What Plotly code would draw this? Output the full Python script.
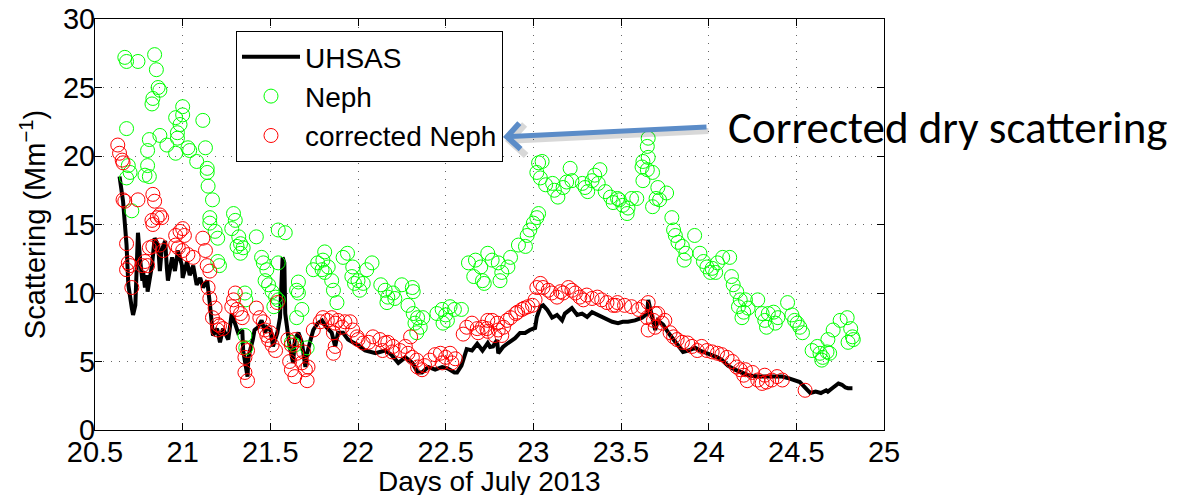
import plotly.graph_objects as go

# ---------------- data ----------------
uhsas_x = [20.64, 20.66, 20.68, 20.69, 20.71, 20.717, 20.73, 20.74, 20.745, 20.757, 20.77, 20.774,
           20.785, 20.797, 20.80, 20.825, 20.84, 20.86, 20.87, 20.88, 20.90, 20.91, 20.916, 20.94,
           20.956, 20.973, 20.996, 21.0, 21.025, 21.04, 21.06, 21.08, 21.1, 21.116, 21.14, 21.156,
           21.173, 21.196, 21.213, 21.23, 21.24, 21.26, 21.28, 21.3, 21.316, 21.34, 21.345, 21.37,
           21.375, 21.4, 21.41, 21.43, 21.45, 21.47, 21.48, 21.5, 21.515, 21.54, 21.555, 21.57,
           21.58, 21.585, 21.595, 21.61, 21.63, 21.64, 21.66, 21.68, 21.7, 21.71, 21.73, 21.745,
           21.77, 21.795, 21.82, 21.85, 21.87, 21.886, 21.915, 21.943, 21.97, 22.0, 22.04, 22.1,
           22.155, 22.19, 22.23, 22.27, 22.31, 22.34, 22.365, 22.4, 22.44, 22.48, 22.51, 22.55,
           22.565, 22.59, 22.62, 22.65, 22.68, 22.71, 22.74, 22.753, 22.77, 22.793, 22.80, 22.827,
           22.856, 22.896, 22.924, 22.953, 22.98, 23.01, 23.02, 23.04, 23.056, 23.08, 23.107,
           23.135, 23.164, 23.18, 23.22, 23.25, 23.278, 23.307, 23.335, 23.37, 23.41, 23.45,
           23.483, 23.51, 23.54, 23.58, 23.62, 23.65, 23.655, 23.68, 23.695, 23.71, 23.74, 23.77,
           23.80, 23.826, 23.854, 23.883, 23.923, 23.95, 23.99, 24.02, 24.05, 24.077, 24.11, 24.15,
           24.19, 24.225, 24.28, 24.36, 24.42, 24.45, 24.49, 24.52, 24.55, 24.58, 24.61, 24.64,
           24.67, 24.68, 24.71, 24.74, 24.76, 24.78, 24.795, 24.82]
uhsas_y = [18.5, 16.7, 13.5, 10.6, 8.9, 8.4, 9.1, 12.6, 14.4, 12.5, 10.9, 11.6,
           10.4, 11.3, 10.1, 12.0, 14.0, 13.5, 11.6, 13.1, 13.8, 11.8, 10.9, 12.6,
           11.6, 13.1, 12.0, 11.1, 12.3, 11.3, 12.0, 10.6, 11.1, 10.4, 10.9, 9.1,
           6.9, 7.4, 6.4, 7.4, 7.1, 6.6, 8.5, 7.8, 7.1, 7.3, 5.8, 3.9,
           5.3, 6.6, 7.3, 7.5, 8.0, 7.1, 7.5, 7.3, 6.1, 7.1, 8.2, 12.6,
           12.2, 8.5, 7.5, 6.1, 4.9, 6.6, 7.1, 6.4, 4.6, 5.6, 6.6, 7.3,
           7.8, 8.0, 7.5, 7.1, 6.1, 7.1, 7.1, 6.6, 6.4, 6.2, 5.8, 5.6,
           5.8, 5.5, 4.9, 5.3, 4.9, 4.2, 4.2, 4.6, 4.4, 4.6, 4.5, 4.2,
           4.2, 4.7, 5.9, 5.8, 6.3, 5.8, 6.35, 6.06, 6.1, 6.57, 5.6, 6.06,
           6.35, 6.7, 7.08, 7.08, 7.3, 7.45, 8.25, 9.0, 9.1, 8.76, 8.2,
           8.4, 8.0, 8.5, 8.9, 8.4, 8.5, 8.25, 8.6, 8.4, 8.2, 7.9,
           7.8, 7.9, 7.9, 8.0, 8.2, 8.5, 9.5, 8.0, 7.3, 8.0, 7.7, 7.1,
           6.6, 6.1, 5.7, 5.8, 6.0, 5.8, 5.6, 5.5, 5.3, 5.1, 4.7, 4.4,
           4.2, 4.0, 3.9, 3.9, 3.9, 3.8, 3.65, 3.5, 3.1, 2.7, 2.8, 2.7,
           2.9, 2.8, 3.1, 3.4, 3.3, 3.1, 3.05, 3.05]

neph_x = [20.67, 20.68, 20.745, 20.84, 20.85, 20.86, 20.87, 20.83, 20.825, 20.68, 21.0, 21.0,
          20.96, 20.985, 20.97, 20.97, 21.115, 20.87, 20.81, 20.80, 20.91, 20.96, 21.03, 21.04,
          21.13, 21.08, 20.69, 20.70, 20.68, 20.80, 20.785, 20.81, 21.14, 21.14, 21.145, 21.17,
          20.71, 21.155, 21.155, 21.185, 21.2, 21.2, 21.21, 21.29, 21.3, 21.28, 21.32, 21.33,
          21.31, 21.345, 21.33, 21.42, 21.45, 21.46, 21.48, 21.47, 21.49, 21.51, 21.53, 21.52,
          21.545, 21.545, 21.545, 21.585, 21.355, 21.36, 21.36, 21.355, 21.66, 21.65, 21.66, 21.68,
          21.65, 21.62, 21.64, 21.71, 21.77, 21.81, 21.80, 21.795, 21.83, 21.81, 21.85, 21.86,
          21.88, 21.915, 21.94, 21.97, 21.965, 21.98, 21.745, 22.0, 22.03, 22.05, 22.08, 22.01,
          22.13, 22.155, 22.17, 22.2, 22.21, 22.165, 22.25, 22.31, 22.315, 22.285, 22.315, 22.34,
          22.37, 22.325, 22.355, 22.335, 22.45, 22.48, 22.50, 22.525, 22.55, 22.59, 22.485, 22.51,
          22.63, 22.67, 22.70, 22.66, 22.71, 22.74, 22.765, 22.80, 22.82, 22.81, 22.72, 22.855,
          22.87, 22.915, 22.955, 22.965, 22.98, 23.0, 23.02, 23.03, 23.03, 23.05, 23.02, 23.04,
          23.07, 23.11, 23.12, 23.14, 23.17, 23.19, 23.21, 23.22, 23.28, 23.295, 23.31, 23.335,
          23.35, 23.38, 23.37, 23.41, 23.44, 23.455, 23.48, 23.49, 23.51, 23.54, 23.56, 23.59,
          23.535, 23.655, 23.65, 23.655, 23.625, 23.62, 23.65, 23.68, 23.625, 23.71, 23.70, 23.68,
          23.72, 23.76, 23.79, 23.80, 23.81, 23.825, 23.85, 23.87, 23.86, 23.92, 23.95, 23.97,
          23.99, 24.02, 24.05, 24.08, 24.12, 24.01, 24.04, 24.13, 24.14, 24.16, 24.18, 24.17,
          24.2, 24.19, 24.21, 24.225, 24.28, 24.305, 24.32, 24.34, 24.37, 24.395, 24.33, 24.38,
          24.45, 24.475, 24.49, 24.52, 24.535, 24.505, 24.59, 24.62, 24.635, 24.65, 24.675, 24.69,
          24.645, 24.68, 24.71, 24.75, 24.79, 24.81, 24.82, 24.795, 24.825]
neph_y = [27.2, 26.9, 26.9, 27.4, 26.3, 25.0, 24.8, 24.2, 23.8, 22.0, 23.6, 23.0,
          22.8, 22.3, 21.7, 21.3, 22.6, 21.5, 21.2, 20.4, 20.8, 20.2, 20.6, 20.4,
          20.6, 19.6, 19.3, 18.8, 18.4, 19.3, 18.6, 18.5, 19.1, 18.8, 17.8, 16.8,
          16.0, 15.5, 15.1, 14.5, 14.0, 12.3, 12.0, 15.8, 15.3, 14.7, 14.1, 13.6,
          13.4, 13.3, 12.9, 14.1, 12.6, 12.2, 11.7, 10.9, 10.6, 10.1, 9.7, 9.0,
          12.2, 9.5, 14.6, 14.4, 10.0, 9.5, 6.0, 6.9, 10.8, 10.2, 10.0, 8.8,
          8.2, 6.4, 6.2, 6.0, 12.2, 13.0, 12.4, 11.7, 11.9, 11.5, 10.9, 10.2,
          9.3, 12.6, 12.9, 11.9, 11.2, 10.7, 11.7, 10.9, 10.7, 11.7, 12.2, 10.2,
          10.6, 10.2, 9.7, 10.0, 9.6, 9.3, 10.6, 10.4, 10.1, 9.1, 8.5, 8.2,
          8.2, 7.8, 7.5, 7.1, 8.5, 8.8, 8.4, 9.0, 8.8, 8.8, 7.8, 8.0,
          12.2, 12.4, 11.9, 11.2, 10.9, 12.9, 12.4, 12.2, 11.5, 10.9, 10.7, 11.9,
          12.6, 13.5, 13.4, 14.2, 14.6, 15.1, 15.5, 15.8, 19.5, 19.6, 18.8, 18.4,
          17.9, 18.0, 17.5, 17.0, 17.7, 18.1, 19.1, 18.2, 18.0, 17.7, 17.4, 18.2,
          18.6, 19.0, 18.0, 17.4, 17.0, 16.6, 16.9, 16.8, 16.4, 16.2, 16.9, 16.9,
          15.8, 21.3, 20.7, 19.9, 19.6, 19.2, 19.0, 18.8, 18.2, 17.7, 16.9, 16.3,
          16.8, 17.3, 15.5, 14.6, 14.2, 13.7, 13.4, 12.9, 12.4, 14.2, 12.9, 12.3,
          11.9, 11.8, 12.2, 12.6, 12.6, 11.5, 11.5, 11.2, 10.6, 10.1, 9.5, 9.0,
          8.6, 8.2, 9.5, 8.9, 9.5, 8.5, 8.0, 8.5, 8.6, 8.2, 7.5, 7.8,
          9.3, 8.4, 8.0, 7.5, 7.1, 7.8, 5.8, 6.1, 5.6, 5.3, 5.7, 5.6,
          5.1, 6.6, 7.3, 8.0, 8.2, 7.4, 6.8, 6.4, 6.6]

corr_x = [20.63, 20.64, 20.655, 20.66, 20.66, 20.67, 20.745, 20.83, 20.84, 20.825, 20.855, 20.87,
          20.88, 20.83, 20.68, 20.69, 20.70, 20.68, 20.71, 20.785, 20.80, 20.77, 20.81, 20.83,
          20.87, 20.89, 20.96, 20.985, 21.0, 21.01, 20.96, 20.975, 21.0, 21.03, 21.06, 21.115,
          21.13, 21.14, 21.155, 21.145, 21.155, 21.185, 21.17, 21.2, 21.2, 21.21, 21.23, 21.3,
          21.29, 21.28, 21.31, 21.33, 21.34, 21.345, 21.37, 21.355, 21.37, 21.355, 21.42, 21.44,
          21.46, 21.47, 21.48, 21.49, 21.51, 21.53, 21.5, 21.54, 21.6, 21.62, 21.64, 21.61,
          21.62, 21.64, 21.68, 21.7, 21.71, 21.715, 21.65, 21.69, 21.745, 21.785, 21.8, 21.825,
          21.85, 21.87, 21.885, 21.91, 21.86, 21.86, 21.87, 21.925, 21.955, 21.97, 21.995, 22.0,
          22.03, 22.06, 22.085, 22.125, 22.155, 22.17, 22.2, 22.14, 22.195, 22.24, 22.27, 22.3,
          22.285, 22.31, 22.335, 22.34, 22.365, 22.38, 22.41, 22.44, 22.47, 22.5, 22.525, 22.555,
          22.48, 22.535, 22.6, 22.62, 22.65, 22.68, 22.71, 22.74, 22.685, 22.74, 22.765, 22.795,
          22.8, 22.83, 22.85, 22.87, 22.9, 22.91, 22.935, 22.95, 22.97, 22.995, 23.01, 23.02,
          23.04, 23.055, 23.085, 23.105, 23.135, 23.155, 23.17, 23.2, 23.22, 23.24, 23.265, 23.285,
          23.305, 23.335, 23.365, 23.39, 23.42, 23.455, 23.47, 22.78, 22.82, 22.735, 23.48, 23.52,
          23.56, 23.6, 23.625, 23.655, 23.65, 23.685, 23.695, 23.71, 23.735, 23.75, 23.78, 23.8,
          23.82, 23.85, 23.88, 23.905, 23.935, 23.96, 23.99, 24.02, 24.05, 24.075, 24.105, 24.135,
          24.16, 24.18, 24.2, 24.22, 23.655, 23.695, 24.21, 24.25, 24.28, 24.305, 24.33, 24.36,
          24.39, 24.42, 24.32, 24.55]
corr_y = [20.8, 20.2, 19.7, 19.5, 16.8, 16.7, 16.8, 17.2, 16.7, 15.3, 15.5, 15.7,
          15.5, 15.0, 13.6, 12.2, 12.0, 11.7, 10.4, 12.3, 12.0, 12.0, 13.3, 13.4,
          13.5, 13.1, 14.2, 14.5, 14.7, 14.2, 13.5, 13.3, 13.1, 12.8, 12.6, 14.0,
          13.1, 12.0, 11.6, 10.4, 9.6, 8.9, 8.2, 7.7, 7.3, 7.6, 7.4, 10.0,
          9.5, 9.0, 8.8, 8.5, 8.2, 6.0, 5.8, 4.2, 3.6, 5.3, 8.9, 8.2,
          7.9, 7.3, 6.9, 6.6, 6.2, 5.8, 7.1, 9.3, 6.6, 6.2, 6.6, 5.0,
          4.4, 3.9, 4.9, 4.4, 3.6, 4.6, 5.6, 5.7, 7.3, 7.9, 8.2, 8.0,
          8.2, 7.8, 8.0, 7.5, 7.1, 5.6, 6.1, 7.9, 7.9, 7.3, 6.8, 6.6,
          6.35, 6.4, 6.8, 6.6, 6.35, 6.4, 6.1, 5.8, 5.7, 5.8, 6.1, 6.8,
          5.6, 5.3, 5.1, 4.6, 4.4, 4.7, 5.1, 5.5, 5.6, 5.3, 5.6, 5.2,
          4.9, 4.9, 7.0, 7.5, 7.8, 7.4, 7.5, 8.0, 7.1, 7.2, 8.0, 7.8,
          7.3, 7.5, 8.0, 8.2, 8.5, 8.6, 8.8, 8.9, 9.0, 9.1, 9.5, 10.4,
          10.7, 10.4, 10.2, 10.0, 9.7, 10.1, 10.0, 10.4, 10.2, 10.0, 9.7, 9.5,
          9.85, 9.6, 9.7, 9.5, 9.3, 9.1, 9.1, 6.9, 6.9, 7.4, 9.3, 9.1,
          9.0, 8.8, 9.0, 9.3, 8.2, 8.0, 7.5, 8.5, 7.8, 8.0, 7.1, 6.8,
          6.6, 6.4, 6.35, 6.1, 5.8, 6.1, 5.8, 5.7, 5.6, 5.5, 5.3, 5.0,
          4.6, 4.4, 4.0, 3.6, 7.3, 8.5, 4.4, 4.2, 3.65, 3.4, 3.5, 3.65,
          3.9, 3.65, 4.0, 2.9]

x_tickvals = [20.5, 21, 21.5, 22, 22.5, 23, 23.5, 24, 24.5, 25]
x_ticktext = ["20.5", "21", "21.5", "22", "22.5", "23", "23.5", "24", "24.5", "25"]
y_tickvals = [0, 5, 10, 15, 20, 25, 30]
y_ticktext = ["0", "5", "10", "15", "20", "25", "30"]

# ---------------- figure ----------------
FONT = "Liberation Sans, Arial, Helvetica, sans-serif"

fig = go.Figure()
fig.add_trace(go.Scatter(x=uhsas_x, y=uhsas_y, mode="lines", name="UHSAS",
                         line=dict(color="black", width=4)))
fig.add_trace(go.Scatter(x=neph_x, y=neph_y, mode="markers", name="Neph",
                         marker=dict(symbol="circle-open", size=14, color="#00ff00",
                                     line=dict(width=1))))
fig.add_trace(go.Scatter(x=corr_x, y=corr_y, mode="markers", name="corrected Neph",
                         marker=dict(symbol="circle-open", size=14, color="#ff0000",
                                     line=dict(width=1))))

axis_common = dict(showline=True, linecolor="black", linewidth=1, mirror="ticks",
                   ticks="inside", ticklen=7, tickcolor="black", automargin=False,
                   showgrid=True, gridcolor="rgba(0,0,0,0.6)", griddash="1px,7px", gridwidth=1,
                   zeroline=False, tickfont=dict(family=FONT, size=29, color="black"))

fig.update_xaxes(range=[20.5, 25], tickvals=x_tickvals, ticktext=x_ticktext,
                 ticklabelstandoff=-4, **axis_common)
fig.update_yaxes(range=[0, 30], tickvals=y_tickvals, ticktext=y_ticktext,
                 ticklabelstandoff=-7,
                 title=dict(text="Scattering (Mm<sup>−1</sup>)",
                            font=dict(family=FONT, size=29, color="black"), standoff=8),
                 **axis_common)

fig.update_layout(
    width=1184, height=495,
    margin=dict(l=95, r=300, t=19, b=65, pad=0),
    plot_bgcolor="white", paper_bgcolor="white",
    font=dict(family=FONT, color="black"),
    legend=dict(x=0.1787, y=0.9708, xanchor="left", yanchor="top",
                bgcolor="white", bordercolor="black", borderwidth=1,
                font=dict(family=FONT, size=28, color="black"),
                itemwidth=58, traceorder="normal"),
    annotations=[
        # x-axis title (placed as in the reference)
        dict(xref="paper", yref="paper", x=0.5, y=(430 - 481) / 411,
             xanchor="center", yanchor="middle", showarrow=False,
             text="Days of July 2013", font=dict(family=FONT, size=28, color="black")),
        # arrow shadow
        dict(xref="paper", yref="paper", x=(505 - 95) / 789, y=(430 - 141) / 411,
             ax=205, ay=-10, axref="pixel", ayref="pixel", text="", showarrow=True,
             arrowhead=4, arrowsize=1.0, arrowwidth=6, arrowcolor="rgba(0,0,0,0.15)", standoff=0),
        # blue arrow
        dict(xref="paper", yref="paper", x=(503 - 95) / 789, y=(430 - 137) / 411,
             ax=205, ay=-10, axref="pixel", ayref="pixel", text="", showarrow=True,
             arrowhead=4, arrowsize=1.0, arrowwidth=5, arrowcolor="#5b8cc8", standoff=0),
        dict(xref="paper", yref="paper", x=(948 - 95) / 789, y=(430 - 127) / 411,
             xanchor="center", yanchor="middle", showarrow=False,
             text="Corrected dry scattering",
             font=dict(family="Carlito, Lato, Open Sans, sans-serif", size=45, color="black")),
    ],
)

fig.write_html("out.html")
